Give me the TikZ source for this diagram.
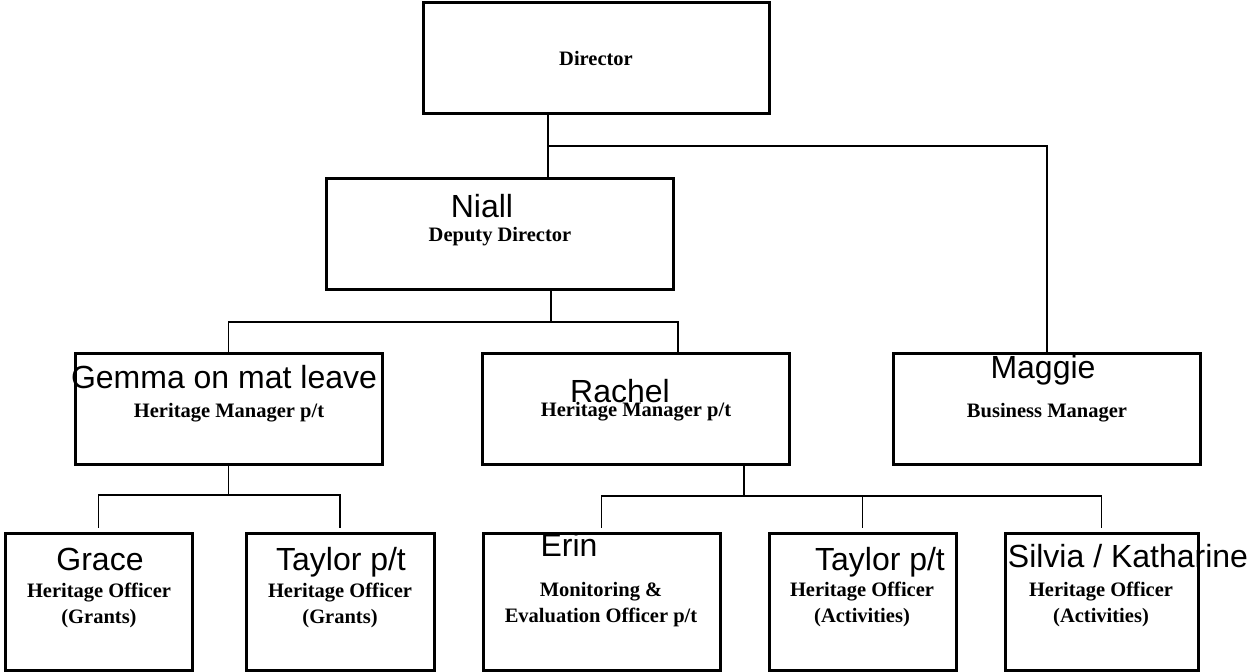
\documentclass[tikz,border=0pt]{standalone}
\usepackage{fontspec}
\setmainfont{Liberation Serif}
\newfontfamily\namefont{Liberation Sans}
\tikzset{
  box/.style={draw, line width=3pt, minimum width=#1, inner sep=0pt},
  link/.style={line width=1.8pt},
  stub/.style={shorten >=4pt},
  who/.style={anchor=base, inner sep=0pt, font=\namefont\fontsize{32}{32}\selectfont},
  post/.style={anchor=base, inner sep=0pt, align=center, font=\bfseries\fontsize{20.5}{26}\selectfont}
}
\begin{document}
\begin{tikzpicture}[x=1pt,y=-1pt]
\useasboundingbox (0,0) rectangle (1251,672);

    \node[box=346pt, minimum height=111pt] (director) at (596,57.5) {};
    \node[box=347pt, minimum height=111pt] (deputy) at (499.5,233.5) {};
  \foreach \n/\x in {gemma/228.5, rachel/635.5, maggie/1047}
    \node[box=307pt, minimum height=111pt] (\n) at (\x,408.5) {};
  \foreach \n/\x/\w in {grace/98.5/187, taylorA/340/188, erin/601.5/237, taylorB/862.5/187, silvia/1101.5/193}
    \node[box=\w pt, minimum height=137pt] (\n) at (\x,601.5) {};

\node[post] (directorT) at (596,65) {Director};
\node[who] (niall) at (482,217) {Niall};
\node[post] (deputyT) at (500,241) {Deputy Director};
\node[who] (gemmaN) at (224,388) {Gemma on mat leave};
\node[post] (gemmaT) at (229,417) {Heritage Manager p/t};
\node[who] (rachelN) at (620,402) {Rachel};
\node[post] (rachelT) at (636,416) {Heritage Manager p/t};
\node[who] (maggieN) at (1043,378) {Maggie};
\node[post] (maggieT) at (1047,417) {Business Manager};
\node[who] (graceN) at (100,570) {Grace};
\node[post] (graceT) at (99,623) {Heritage Officer\\(Grants)};
\node[who] (taylorAN) at (341,570) {Taylor p/t};
\node[post] (taylorAT) at (340,623) {Heritage Officer\\(Grants)};
\node[who] (erinN) at (569,556) {Erin};
\node[post] (erinT) at (601,622) {Monitoring \&\\Evaluation Officer p/t};
\node[who] (taylorBN) at (880,570) {Taylor p/t};
\node[post] (taylorBT) at (862,622) {Heritage Officer\\(Activities)};
\node[who] (silviaN) at (1128,567) {Silvia / Katharine};
\node[post] (silviaT) at (1101,622) {Heritage Officer\\(Activities)};

\coordinate (j1) at (548,146);
\draw[link] (director.south -| j1) -- (deputy.north -| j1);
\draw[link] (j1) -| (maggie.north);
\coordinate (j2) at (551,322);
\coordinate (j2r) at (678,322);
\draw[link] (deputy.south -| j2) -- (j2);
\draw[link] (gemma.north) |- (j2r) -- (rachel.north -| j2r);
\coordinate (j3) at (228.5,495);
\draw[link] (gemma.south) -- (j3);
\draw[link,stub] (j3) -| (grace.north);
\draw[link,stub] (j3) -| (taylorA.north);
\coordinate (j4) at (744,496);
\draw[link] (rachel.south -| j4) -- (j4);
  \foreach \n in {erin,taylorB,silvia}
    \draw[link,stub] (j4) -| (\n.north);
\end{tikzpicture}
\end{document}
